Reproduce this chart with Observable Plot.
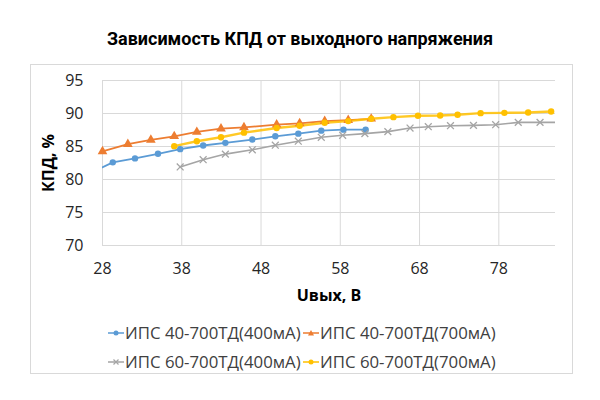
<!DOCTYPE html>
<html><head><meta charset="utf-8">
<script src="https://cdn.jsdelivr.net/npm/d3@7"></script>
<script src="https://cdn.jsdelivr.net/npm/@observablehq/plot@0.6"></script>
<style>
body{margin:0;background:#fff;width:600px;height:400px;position:relative;overflow:hidden;font-family:"Open Sans",sans-serif}
#title{position:absolute;left:0;width:600px;top:28px;text-align:center;font:700 18px Roboto,sans-serif;color:#000;white-space:nowrap}
#frame{position:absolute;left:30px;top:64px;width:543px;height:310px;border:1px solid #d9d9d9;box-sizing:border-box}
#chart{position:absolute;left:0;top:64px}
.lab{position:absolute;font:700 16px "Open Sans",sans-serif;color:#000;white-space:nowrap}
#xlab{left:229px;width:200px;text-align:center;top:284px}
#ylab{left:48px;top:163px;transform:translate(-50%,-50%) rotate(-90deg)}
.leg{position:absolute;display:flex;align-items:center;font:16.8px "Open Sans",sans-serif;color:#404040;white-space:nowrap}
.leg svg{margin-right:1px}
</style></head>
<body>
<div id="title">Зависимость КПД от выходного напряжения</div>
<div id="frame"></div>
<div id="chart"></div>
<div class="lab" id="xlab">Uвых, В</div>
<div class="lab" id="ylab">КПД, %</div>
<div id="legend"></div>
<script>
const seriesNames = ["ИПС 40-700ТД(400мА)", "ИПС 40-700ТД(700мА)", "ИПС 60-700ТД(400мА)", "ИПС 60-700ТД(700мА)"];
const seriesColors = ["#5B9BD5", "#ED7D31", "#A5A5A5", "#FFC000"];
const seriesSymbols = ["circle", "triangle", "times", "circle"];

const s1x = [27.0, 29.3, 32.1, 35.0, 37.8, 40.7, 43.5, 46.9, 49.8, 52.7, 55.6, 58.4, 61.2];
const s1y = [81.3, 82.6, 83.2, 83.9, 84.6, 85.15, 85.55, 86.05, 86.55, 86.95, 87.4, 87.55, 87.55];

const s2x = [28.0, 31.2, 34.1, 37.05, 39.9, 42.95, 45.85, 49.97, 52.87, 56.03, 59.0, 61.9];
const s2y = [84.25, 85.35, 86.0, 86.55, 87.2, 87.7, 87.9, 88.3, 88.5, 88.85, 89.0, 89.2];

const s3x = [37.8, 40.7, 43.5, 46.9, 49.8, 52.7, 55.6, 58.3, 61.1, 64.0, 66.8, 69.1, 71.9, 74.8, 77.6, 80.45, 83.2, 86.0];
const s3y = [81.9, 83.0, 83.85, 84.5, 85.2, 85.8, 86.4, 86.7, 86.95, 87.25, 87.8, 88.0, 88.15, 88.2, 88.3, 88.65, 88.65, 88.65];

const s4x = [37.05, 39.9, 42.95, 45.85, 49.97, 52.87, 56.03, 59.0, 61.9, 64.7, 67.8, 70.6, 72.8, 75.7, 78.7, 81.7, 84.6];
const s4y = [85.05, 85.8, 86.4, 87.1, 87.8, 88.15, 88.6, 88.85, 89.2, 89.45, 89.65, 89.7, 89.8, 90.05, 90.1, 90.15, 90.3];

const xTicks = [28, 38, 48, 58, 68, 78];
const yTicks = [70, 75, 80, 85, 90, 95];
const xDomain = [28, 85.15];
const yDomain = [70, 95];

const allX = [s1x, s2x, s3x, s4x];
const allY = [s1y, s2y, s3y, s4y];
const data = [];
allX.forEach((xs, i) => xs.forEach((x, j) => data.push({series: seriesNames[i], x, y: allY[i][j]})));
const inside = data.filter(d => d.x >= xDomain[0] && d.x <= xDomain[1]);

const widths = [1.8, 1.8, 1.6, 2.4];
const marks = [
  Plot.gridX(xTicks, {stroke: "#d9d9d9", strokeOpacity: 1}),
  Plot.gridY(yTicks, {stroke: "#d9d9d9", strokeOpacity: 1}),
  Plot.axisX(xTicks, {tickSize: 0, tickPadding: 17, fontSize: 16, fill: "#262626", label: null}),
  Plot.axisY(yTicks, {tickSize: 0, tickPadding: 19, fontSize: 16, fill: "#262626", label: null})
];
seriesNames.forEach((name, i) => {
  marks.push(Plot.line(data.filter(d => d.series === name), {x: "x", y: "y", stroke: seriesColors[i], strokeWidth: widths[i], clip: true, strokeOpacity: i === 3 ? 0.85 : 1}));
});
seriesNames.forEach((name, i) => {
  const pts = inside.filter(d => d.series === name);
  if (seriesSymbols[i] === "times") {
    marks.push(Plot.dot(pts, {x: "x", y: "y", symbol: "times", r: 3.2, stroke: seriesColors[i], strokeWidth: 1.3}));
  } else {
    marks.push(Plot.dot(pts, {x: "x", y: "y", symbol: seriesSymbols[i], r: seriesSymbols[i] === "triangle" ? 3.6 : 3.2, fill: seriesColors[i], stroke: "none"}));
  }
});

const chart = Plot.plot({
  width: 600, height: 245,
  marginLeft: 102, marginRight: 45, marginTop: 16, marginBottom: 64,
  x: {domain: xDomain},
  y: {domain: yDomain},
  style: {fontFamily: "'Open Sans', sans-serif", background: "transparent"},
  marks
});
document.getElementById("chart").appendChild(chart);

// legend
const legPos = [[108, 333], [303, 333], [108, 362], [303, 362]];
const legend = document.getElementById("legend");
seriesNames.forEach((name, i) => {
  const div = document.createElement("div");
  div.className = "leg";
  div.style.left = legPos[i][0] + "px";
  div.style.top = (legPos[i][1] - 12) + "px";
  let sym;
  if (i === 0 || i === 3) sym = `<circle cx="8" cy="7" r="2.5" fill="${seriesColors[i]}"/>`;
  else if (i === 1) sym = `<path d="M8,4 L11,9.5 L5,9.5 Z" fill="${seriesColors[i]}"/>`;
  else sym = `<path d="M5.5,4.5 L10.5,9.5 M10.5,4.5 L5.5,9.5" stroke="${seriesColors[i]}" stroke-width="1.2"/>`;
  div.innerHTML = `<svg width="16" height="14"><line x1="0" y1="7" x2="16" y2="7" stroke="${seriesColors[i]}" stroke-width="1.5"/>${sym}</svg><span>${name}</span>`;
  legend.appendChild(div);
});
</script>
</body></html>
